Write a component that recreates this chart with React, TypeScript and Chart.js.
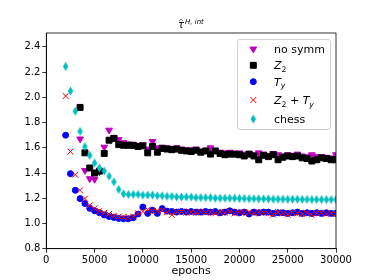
import React, { useEffect, useRef } from 'react';
import { Chart, registerables } from 'chart.js';
import { drawPoint } from 'chart.js/helpers';

Chart.register(...registerables);

const epochs = [2000, 2500, 3000, 3500, 4000, 4500, 5000, 5500, 6000, 6500, 7000, 7500, 8000, 8500, 9000, 9500,
  10000, 10500, 11000, 11500, 12000, 12500, 13000, 13500, 14000, 14500, 15000, 15500, 16000, 16500, 17000, 17500,
  18000, 18500, 19000, 19500, 20000, 20500, 21000, 21500, 22000, 22500, 23000, 23500, 24000, 24500, 25000, 25500,
  26000, 26500, 27000, 27500, 28000, 28500, 29000, 29500, 30000];

const noSymm = [null, null, null, 1.67, 1.42, 1.355, 1.35, 1.41, 1.605, 1.74, 1.68, 1.665, 1.64, 1.63, 1.625, 1.62,
  1.625, 1.59, 1.65, 1.6, 1.605, 1.6, 1.595, 1.6, 1.59, 1.585, 1.585, 1.59, 1.575, 1.58, 1.6, 1.58,
  1.565, 1.56, 1.565, 1.555, 1.56, 1.55, 1.555, 1.545, 1.56, 1.55, 1.54, 1.555, 1.545, 1.535, 1.545, 1.54,
  1.55, 1.535, 1.53, 1.545, 1.53, 1.53, 1.525, 1.52, 1.545];

const z2 = [null, null, null, 1.92, 1.56, 1.44, 1.4, 1.415, 1.555, 1.66, 1.675, 1.625, 1.62, 1.62, 1.62, 1.61,
  1.615, 1.56, 1.61, 1.565, 1.595, 1.59, 1.585, 1.59, 1.58, 1.575, 1.57, 1.58, 1.565, 1.575, 1.55, 1.575,
  1.555, 1.545, 1.55, 1.55, 1.545, 1.535, 1.55, 1.535, 1.505, 1.54, 1.53, 1.545, 1.505, 1.525, 1.535, 1.53,
  1.535, 1.52, 1.515, 1.495, 1.505, 1.52, 1.515, 1.505, 1.505];

const ty = [1.7, 1.395, 1.263, 1.197, 1.158, 1.12, 1.1, 1.085, 1.068, 1.055, 1.048, 1.04, 1.037, 1.037, 1.045, 1.075,
  1.13, 1.08, 1.105, 1.08, 1.118, 1.098, 1.095, 1.09, 1.095, 1.09, 1.095, 1.09, 1.09, 1.095, 1.09, 1.095,
  1.085, 1.09, 1.1, 1.09, 1.085, 1.09, 1.075, 1.09, 1.085, 1.09, 1.09, 1.08, 1.085, 1.085, 1.08, 1.085,
  1.09, 1.08, 1.085, 1.08, 1.085, 1.08, 1.085, 1.08, 1.08];

const z2ty = [2.01, 1.57, 1.387, 1.263, 1.197, 1.145, 1.12, 1.1, 1.085, 1.075, 1.06, 1.055, 1.05, 1.05, 1.055, 1.08,
  1.095, 1.11, 1.095, 1.1, 1.105, 1.09, 1.068, 1.09, 1.095, 1.085, 1.09, 1.085, 1.095, 1.085, 1.09, 1.08,
  1.09, 1.085, 1.095, 1.08, 1.09, 1.085, 1.09, 1.08, 1.09, 1.085, 1.08, 1.07, 1.09, 1.08, 1.07, 1.085,
  1.08, 1.075, 1.085, 1.07, 1.08, 1.085, 1.075, 1.08, 1.075];

const chess = [2.245, 2.05, 1.89, 1.73, 1.61, 1.54, 1.48, 1.44, 1.415, 1.375, 1.33, 1.27, 1.235, 1.23, 1.23, 1.23,
  1.225, 1.225, 1.225, 1.22, 1.22, 1.215, 1.215, 1.21, 1.21, 1.21, 1.21, 1.205, 1.205, 1.205, 1.205, 1.2,
  1.2, 1.2, 1.2, 1.2, 1.198, 1.198, 1.196, 1.196, 1.195, 1.195, 1.195, 1.193, 1.193, 1.193, 1.192, 1.192,
  1.192, 1.191, 1.191, 1.19, 1.19, 1.19, 1.19, 1.19, 1.19];

const xTicks = [0, 5000, 10000, 15000, 20000, 25000, 30000];
const yTicks = [0.8, 1.0, 1.2, 1.4, 1.6, 1.8, 2.0, 2.2, 2.4];
const seriesNames = ['no symm', 'Z2', 'Ty', 'Z2 + Ty', 'chess'];

const FONT = "'DejaVu Sans', sans-serif";

function toPoints(vals: (number | null)[]) {
  const out: { x: number; y: number }[] = [];
  epochs.forEach((e, i) => {
    const v = vals[i];
    if (v !== null && v !== undefined) out.push({ x: e, y: v });
  });
  return out;
}

function makeDiamond(color: string) {
  const c = document.createElement('canvas');
  c.width = 7;
  c.height = 10;
  const g = c.getContext('2d')!;
  g.fillStyle = color;
  g.beginPath();
  g.moveTo(3.5, 0.6);
  g.lineTo(6.2, 5);
  g.lineTo(3.5, 9.4);
  g.lineTo(0.8, 5);
  g.closePath();
  g.fill();
  return c;
}

type Part = { t: string; i?: boolean; sub?: boolean };

const legendParts: Part[][] = [
  [{ t: 'no symm' }],
  [{ t: 'Z', i: true }, { t: '2', sub: true }],
  [{ t: 'T', i: true }, { t: 'y', i: true, sub: true }],
  [{ t: 'Z', i: true }, { t: '2', sub: true }, { t: ' + ' }, { t: 'T', i: true }, { t: 'y', i: true, sub: true }],
  [{ t: 'chess' }],
];

export default function App() {
  const ref = useRef<HTMLCanvasElement>(null);

  useEffect(() => {
    const canvas = ref.current!;
    const diamond = makeDiamond('#00bfbf');

    const styles = [
      { color: '#bf00bf', pointStyle: 'triangle', radius: 3.9, rotation: 180, bw: 1 },
      { color: '#000000', pointStyle: 'rect', radius: 4.2, rotation: 0, bw: 1 },
      { color: '#0000ff', pointStyle: 'circle', radius: 3, rotation: 0, bw: 1 },
      { color: '#ff0000', pointStyle: 'crossRot', radius: 4.2, rotation: 0, bw: 1 },
      { color: '#00bfbf', pointStyle: diamond as any, radius: 3.5, rotation: 0, bw: 0 },
    ];
    const series = [noSymm, z2, ty, z2ty, chess];

    const datasets = series.map((s, k) => ({
      label: seriesNames[k],
      data: toPoints(s),
      showLine: false,
      pointStyle: styles[k].pointStyle,
      pointRadius: styles[k].radius,
      pointRotation: styles[k].rotation,
      pointBackgroundColor: styles[k].color,
      pointBorderColor: styles[k].color,
      pointBorderWidth: styles[k].bw,
      backgroundColor: styles[k].color,
      borderColor: styles[k].color,
      order: 4 - k,
      clip: 0,
    }));

    const framePlugin = {
      id: 'frame',
      afterDatasetsDraw(chart: any) {
        const { ctx, chartArea: a } = chart;
        ctx.save();
        ctx.strokeStyle = '#000';
        ctx.lineWidth = 0.8;
        ctx.strokeRect(a.left, a.top, a.right - a.left, a.bottom - a.top);
        ctx.restore();
      },
    };

    const titlePlugin = {
      id: 'mtitle',
      afterDraw(chart: any) {
        const ctx = chart.ctx;
        ctx.save();
        ctx.fillStyle = '#000';
        ctx.textBaseline = 'alphabetic';
        ctx.font = `italic 10px ${FONT}`;
        ctx.fillText('τ', 178, 27.5);
        ctx.strokeStyle = '#000';
        ctx.lineWidth = 0.7;
        ctx.beginPath();
        ctx.moveTo(179.3, 20.9);
        ctx.lineTo(181, 19.2);
        ctx.lineTo(182.7, 20.9);
        ctx.stroke();
        ctx.font = `italic 7px ${FONT}`;
        ctx.fillText('H, int', 185, 24);
        ctx.restore();
      },
    };

    const rowsY = [49, 65.3, 81.7, 100, 119];
    const legendPlugin = {
      id: 'mlegend',
      afterDraw(chart: any) {
        const ctx = chart.ctx;
        ctx.save();
        const x0 = 237.5, y0 = 39.5, w = 93, h = 90, r = 2.5;
        ctx.beginPath();
        ctx.moveTo(x0 + r, y0);
        ctx.lineTo(x0 + w - r, y0);
        ctx.quadraticCurveTo(x0 + w, y0, x0 + w, y0 + r);
        ctx.lineTo(x0 + w, y0 + h - r);
        ctx.quadraticCurveTo(x0 + w, y0 + h, x0 + w - r, y0 + h);
        ctx.lineTo(x0 + r, y0 + h);
        ctx.quadraticCurveTo(x0, y0 + h, x0, y0 + h - r);
        ctx.lineTo(x0, y0 + r);
        ctx.quadraticCurveTo(x0, y0, x0 + r, y0);
        ctx.closePath();
        ctx.fillStyle = 'rgba(255,255,255,0.8)';
        ctx.fill();
        ctx.strokeStyle = '#d0d0d0';
        ctx.lineWidth = 1;
        ctx.stroke();

        styles.forEach((st, k) => {
          const y = rowsY[k];
          ctx.fillStyle = st.color;
          ctx.strokeStyle = st.color;
          ctx.lineWidth = st.bw || 1;
          drawPoint(ctx, { pointStyle: st.pointStyle, radius: st.radius, rotation: st.rotation, borderWidth: st.bw } as any, 253.3, y);

          let x = 274;
          const base = y + 4;
          ctx.fillStyle = '#000';
          ctx.textBaseline = 'alphabetic';
          legendParts[k].forEach((p) => {
            const size = p.sub ? 7.7 : 11;
            ctx.font = `${p.i ? 'italic ' : ''}${size}px ${FONT}`;
            ctx.fillText(p.t, x, base + (p.sub ? 2.5 : 0));
            x += ctx.measureText(p.t).width;
          });
        });
        ctx.restore();
      },
    };

    const chart = new Chart(canvas, {
      type: 'scatter',
      data: { datasets: datasets as any },
      options: {
        animation: false,
        responsive: false,
        devicePixelRatio: 1,
        layout: { padding: { top: 33, right: 38, left: 0, bottom: 0 } },
        plugins: {
          legend: { display: false },
          title: { display: false },
          tooltip: { enabled: false },
        },
        scales: {
          x: {
            type: 'linear',
            min: 0,
            max: 30000,
            afterBuildTicks: (s: any) => {
              s.ticks = xTicks.map((v) => ({ value: v }));
            },
            afterFit: (s: any) => {
              s.height = 31.3;
            },
            ticks: {
              font: { family: FONT, size: 10 },
              color: '#000',
              maxRotation: 0,
              autoSkip: false,
              padding: 2,
              callback: (v: any) => String(v),
            },
            grid: { drawOnChartArea: false, drawTicks: true, tickLength: 4, color: '#000', tickWidth: 0.8 },
            border: { display: true, color: '#000', width: 0.8 },
            title: {
              display: true,
              text: 'epochs',
              font: { family: FONT, size: 11 },
              color: '#000',
              padding: { top: 0, bottom: 2 },
            },
          },
          y: {
            type: 'linear',
            min: 0.8,
            max: 2.51,
            afterBuildTicks: (s: any) => {
              s.ticks = yTicks.map((v) => ({ value: v }));
            },
            afterFit: (s: any) => {
              s.width = 46.3;
            },
            ticks: {
              font: { family: FONT, size: 10 },
              color: '#000',
              padding: 2,
              callback: (v: any) => Number(v).toFixed(1),
            },
            grid: { drawOnChartArea: false, drawTicks: true, tickLength: 4, color: '#000', tickWidth: 0.8 },
            border: { display: true, color: '#000', width: 0.8 },
          },
        },
      } as any,
      plugins: [framePlugin, titlePlugin, legendPlugin],
    });

    return () => chart.destroy();
  }, []);

  return (
    <div style={{ position: 'fixed', left: 0, top: 0, width: 374, height: 280, background: '#fff' }}>
      <canvas ref={ref} width={374} height={280} style={{ display: 'block', width: 374, height: 280 }} />
    </div>
  );
}
